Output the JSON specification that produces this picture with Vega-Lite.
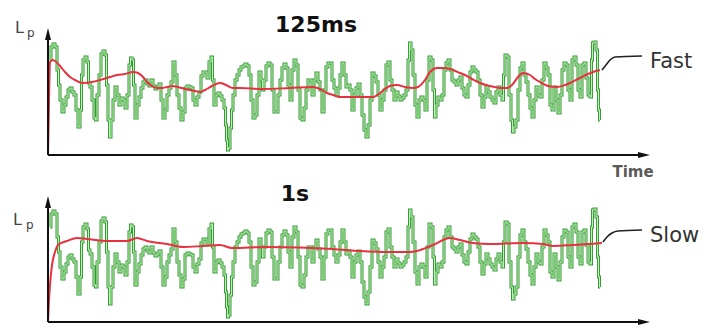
{
"$schema":"https://vega.github.io/schema/vega-lite/v6.json",
"padding":0,
"spacing":0,
"bounds":"flush",
"config":{"view":{"stroke":null},"font":"DejaVu Sans","axis":{"disable":true}},
"datasets":{
"signal":[{"t":2,"v":95},{"t":4,"v":108},{"t":6,"v":111},{"t":8,"v":108},{"t":10,"v":85},{"t":11,"v":70},{"t":13,"v":55},{"t":15,"v":43},{"t":17,"v":50},{"t":19,"v":58},{"t":21,"v":65},{"t":23,"v":67},{"t":25,"v":63},{"t":27,"v":60},{"t":29,"v":45},{"t":31,"v":28},{"t":33,"v":45},{"t":34,"v":80},{"t":36,"v":95},{"t":38,"v":98},{"t":40,"v":93},{"t":41,"v":72},{"t":43,"v":68},{"t":45,"v":55},{"t":47,"v":37},{"t":48,"v":35},{"t":50,"v":60},{"t":52,"v":80},{"t":54,"v":101},{"t":56,"v":104},{"t":58,"v":100},{"t":59,"v":70},{"t":61,"v":35},{"t":62,"v":18},{"t":64,"v":35},{"t":66,"v":55},{"t":68,"v":68},{"t":70,"v":60},{"t":72,"v":50},{"t":74,"v":57},{"t":76,"v":55},{"t":78,"v":47},{"t":80,"v":60},{"t":82,"v":90},{"t":83,"v":97},{"t":85,"v":95},{"t":86,"v":70},{"t":88,"v":37},{"t":90,"v":50},{"t":92,"v":58},{"t":94,"v":67},{"t":96,"v":73},{"t":98,"v":75},{"t":100,"v":71},{"t":102,"v":69},{"t":104,"v":75},{"t":106,"v":69},{"t":108,"v":66},{"t":110,"v":68},{"t":112,"v":71},{"t":114,"v":55},{"t":116,"v":37},{"t":118,"v":45},{"t":120,"v":60},{"t":122,"v":67},{"t":124,"v":73},{"t":126,"v":93},{"t":128,"v":80},{"t":130,"v":60},{"t":132,"v":47},{"t":134,"v":35},{"t":136,"v":43},{"t":138,"v":67},{"t":140,"v":69},{"t":142,"v":68},{"t":144,"v":67},{"t":146,"v":55},{"t":148,"v":50},{"t":150,"v":58},{"t":152,"v":63},{"t":154,"v":79},{"t":156,"v":83},{"t":158,"v":83},{"t":160,"v":77},{"t":162,"v":93},{"t":164,"v":98},{"t":165,"v":75},{"t":167,"v":50},{"t":169,"v":60},{"t":171,"v":62},{"t":173,"v":59},{"t":175,"v":55},{"t":177,"v":47},{"t":178,"v":30},{"t":179,"v":15},{"t":180,"v":5},{"t":181,"v":7},{"t":183,"v":27},{"t":184,"v":45},{"t":186,"v":60},{"t":188,"v":75},{"t":190,"v":80},{"t":192,"v":85},{"t":194,"v":88},{"t":196,"v":89},{"t":198,"v":91},{"t":200,"v":89},{"t":202,"v":80},{"t":204,"v":55},{"t":206,"v":37},{"t":208,"v":40},{"t":210,"v":60},{"t":212,"v":83},{"t":214,"v":75},{"t":215,"v":65},{"t":217,"v":75},{"t":219,"v":89},{"t":221,"v":92},{"t":223,"v":90},{"t":225,"v":65},{"t":227,"v":43},{"t":229,"v":43},{"t":231,"v":60},{"t":233,"v":75},{"t":235,"v":87},{"t":237,"v":91},{"t":239,"v":87},{"t":241,"v":70},{"t":243,"v":55},{"t":245,"v":85},{"t":247,"v":95},{"t":249,"v":90},{"t":251,"v":65},{"t":253,"v":37},{"t":255,"v":35},{"t":257,"v":47},{"t":259,"v":65},{"t":261,"v":75},{"t":263,"v":75},{"t":265,"v":60},{"t":267,"v":75},{"t":269,"v":82},{"t":271,"v":73},{"t":273,"v":65},{"t":275,"v":43},{"t":277,"v":65},{"t":279,"v":88},{"t":281,"v":92},{"t":283,"v":92},{"t":285,"v":75},{"t":287,"v":67},{"t":289,"v":60},{"t":291,"v":67},{"t":293,"v":80},{"t":295,"v":92},{"t":297,"v":80},{"t":299,"v":68},{"t":301,"v":70},{"t":303,"v":65},{"t":305,"v":45},{"t":307,"v":60},{"t":309,"v":67},{"t":311,"v":71},{"t":313,"v":60},{"t":315,"v":40},{"t":317,"v":25},{"t":319,"v":18},{"t":321,"v":30},{"t":323,"v":55},{"t":325,"v":82},{"t":327,"v":79},{"t":329,"v":73},{"t":331,"v":60},{"t":333,"v":45},{"t":335,"v":55},{"t":337,"v":65},{"t":339,"v":90},{"t":341,"v":93},{"t":343,"v":75},{"t":345,"v":65},{"t":347,"v":55},{"t":349,"v":63},{"t":351,"v":59},{"t":353,"v":55},{"t":355,"v":57},{"t":357,"v":60},{"t":359,"v":65},{"t":361,"v":95},{"t":362,"v":112},{"t":364,"v":105},{"t":366,"v":80},{"t":368,"v":50},{"t":370,"v":38},{"t":372,"v":55},{"t":374,"v":58},{"t":376,"v":55},{"t":378,"v":45},{"t":380,"v":75},{"t":382,"v":98},{"t":384,"v":95},{"t":386,"v":65},{"t":387,"v":38},{"t":389,"v":50},{"t":391,"v":58},{"t":393,"v":55},{"t":395,"v":60},{"t":397,"v":85},{"t":399,"v":92},{"t":401,"v":95},{"t":403,"v":85},{"t":405,"v":75},{"t":407,"v":73},{"t":409,"v":70},{"t":411,"v":75},{"t":413,"v":78},{"t":415,"v":67},{"t":417,"v":60},{"t":419,"v":58},{"t":421,"v":70},{"t":423,"v":83},{"t":425,"v":88},{"t":427,"v":85},{"t":429,"v":83},{"t":431,"v":75},{"t":433,"v":60},{"t":435,"v":48},{"t":437,"v":58},{"t":439,"v":68},{"t":441,"v":63},{"t":443,"v":58},{"t":445,"v":55},{"t":447,"v":52},{"t":449,"v":63},{"t":451,"v":68},{"t":453,"v":60},{"t":455,"v":55},{"t":456,"v":80},{"t":458,"v":100},{"t":460,"v":98},{"t":462,"v":60},{"t":464,"v":35},{"t":465,"v":23},{"t":467,"v":28},{"t":469,"v":35},{"t":471,"v":65},{"t":473,"v":87},{"t":475,"v":92},{"t":477,"v":80},{"t":479,"v":73},{"t":481,"v":60},{"t":483,"v":47},{"t":485,"v":38},{"t":487,"v":55},{"t":489,"v":68},{"t":491,"v":60},{"t":493,"v":58},{"t":495,"v":75},{"t":497,"v":92},{"t":499,"v":87},{"t":501,"v":80},{"t":503,"v":50},{"t":505,"v":45},{"t":507,"v":68},{"t":509,"v":55},{"t":511,"v":42},{"t":513,"v":60},{"t":515,"v":85},{"t":517,"v":92},{"t":519,"v":90},{"t":521,"v":65},{"t":523,"v":55},{"t":525,"v":95},{"t":527,"v":98},{"t":529,"v":90},{"t":531,"v":65},{"t":533,"v":58},{"t":535,"v":90},{"t":537,"v":92},{"t":539,"v":77},{"t":541,"v":60},{"t":543,"v":58},{"t":544,"v":95},{"t":545,"v":112},{"t":547,"v":113},{"t":549,"v":105},{"t":550,"v":65},{"t":551,"v":45},{"t":552,"v":35}],
"fast":[{"t":0,"v":0},{"t":1,"v":55},{"t":2,"v":93},{"t":4,"v":95},{"t":7,"v":94},{"t":12,"v":89},{"t":17,"v":83},{"t":22,"v":78},{"t":27,"v":75},{"t":35,"v":72},{"t":44,"v":73},{"t":52,"v":75},{"t":62,"v":78},{"t":69,"v":80},{"t":77,"v":81},{"t":85,"v":83},{"t":90,"v":82},{"t":95,"v":78},{"t":99,"v":73},{"t":104,"v":69},{"t":109,"v":67},{"t":114,"v":67},{"t":119,"v":68},{"t":124,"v":69},{"t":130,"v":68},{"t":137,"v":66},{"t":142,"v":65},{"t":147,"v":64},{"t":152,"v":63},{"t":157,"v":65},{"t":164,"v":69},{"t":172,"v":72},{"t":178,"v":70},{"t":185,"v":67},{"t":192,"v":67},{"t":215,"v":66},{"t":242,"v":67},{"t":265,"v":68},{"t":272,"v":66},{"t":279,"v":62},{"t":285,"v":60},{"t":292,"v":58},{"t":312,"v":58},{"t":325,"v":58},{"t":332,"v":62},{"t":337,"v":66},{"t":342,"v":69},{"t":349,"v":70},{"t":357,"v":68},{"t":365,"v":67},{"t":370,"v":68},{"t":377,"v":75},{"t":382,"v":83},{"t":389,"v":87},{"t":397,"v":87},{"t":405,"v":85},{"t":412,"v":82},{"t":417,"v":80},{"t":424,"v":76},{"t":432,"v":72},{"t":442,"v":69},{"t":452,"v":67},{"t":459,"v":67},{"t":464,"v":70},{"t":470,"v":78},{"t":475,"v":82},{"t":482,"v":80},{"t":487,"v":76},{"t":492,"v":73},{"t":500,"v":69},{"t":509,"v":68},{"t":517,"v":70},{"t":522,"v":72},{"t":532,"v":77},{"t":540,"v":81},{"t":545,"v":83},{"t":552,"v":85}],
"slow":[{"t":0,"v":0},{"t":1,"v":22},{"t":2,"v":37},{"t":4,"v":57},{"t":7,"v":70},{"t":10,"v":77},{"t":19,"v":81},{"t":29,"v":84},{"t":39,"v":83},{"t":59,"v":81},{"t":79,"v":81},{"t":89,"v":84},{"t":99,"v":81},{"t":119,"v":78},{"t":135,"v":75},{"t":155,"v":76},{"t":172,"v":77},{"t":184,"v":74},{"t":219,"v":75},{"t":285,"v":73},{"t":312,"v":71},{"t":342,"v":70},{"t":362,"v":70},{"t":369,"v":71},{"t":385,"v":77},{"t":402,"v":84},{"t":412,"v":82},{"t":425,"v":79},{"t":442,"v":78},{"t":475,"v":79},{"t":495,"v":78},{"t":505,"v":76},{"t":525,"v":77},{"t":554,"v":79}],
"leadF":[{"t":554,"v":85},{"t":558,"v":90},{"t":562,"v":95},{"t":567,"v":98},{"t":594,"v":99}],
"leadS":[{"t":555,"v":80},{"t":559,"v":85},{"t":564,"v":89},{"t":570,"v":91},{"t":594,"v":92}],
"anno":[{"k":1}]
},
"vconcat":[
{
"width":706,"height":180,
"layer":[
{"data":{"name":"signal"},"mark":{"type":"line","interpolate":"step","stroke":"#359535","strokeWidth":3}, "encoding":{"x":{"field":"t","type":"quantitative","scale":{"domain":[-48,658],"nice":false,"zero":false}},"y":{"field":"v","type":"quantitative","scale":{"domain":[-25,155],"nice":false,"zero":false}}}},
{"data":{"name":"signal"},"mark":{"type":"line","interpolate":"step","stroke":"#b8f5b0","strokeWidth":1.1},"encoding":{"x":{"field":"t","type":"quantitative"},"y":{"field":"v","type":"quantitative"}}},
{"data":{"name":"fast"},"mark":{"type":"line","interpolate":"monotone","stroke":"#e8303f","strokeWidth":2},"encoding":{"x":{"field":"t","type":"quantitative"},"y":{"field":"v","type":"quantitative"}}},
{"data":{"name":"leadF"},"mark":{"type":"line","interpolate":"monotone","stroke":"#222222","strokeWidth":1.6},"encoding":{"x":{"field":"t","type":"quantitative"},"y":{"field":"v","type":"quantitative"}}},
{"data":{"name":"anno"},"mark":{"type":"rule","stroke":"#111111","strokeWidth":2},"encoding":{"x":{"datum":0,"type":"quantitative"},"x2":{"datum":592},"y":{"datum":0,"type":"quantitative"}}},
{"data":{"name":"anno"},"mark":{"type":"rule","stroke":"#111111","strokeWidth":2},"encoding":{"x":{"datum":0,"type":"quantitative"},"y":{"datum":0,"type":"quantitative"},"y2":{"datum":121}}},
{"data":{"name":"anno"},"mark":{"type":"point","shape":"M-1,-0.5L1,0L-1,0.5Z","filled":true,"color":"#111111","size":144,"opacity":1},"encoding":{"x":{"datum":596,"type":"quantitative"},"y":{"datum":0,"type":"quantitative"}}},
{"data":{"name":"anno"},"mark":{"type":"point","shape":"M-0.5,1L0,-1L0.5,1Z","filled":true,"color":"#111111","size":144,"opacity":1},"encoding":{"x":{"datum":0,"type":"quantitative"},"y":{"datum":121,"type":"quantitative"}}},
{"data":{"name":"anno"},"mark":{"type":"text","text":"125ms","font":"DejaVu Sans","fontWeight":"bold","fontSize":22,"align":"center","baseline":"middle","color":"#111111"},"encoding":{"x":{"datum":268,"type":"quantitative"},"y":{"datum":130,"type":"quantitative"}}},
{"data":{"name":"anno"},"mark":{"type":"text","text":"L","fontSize":16,"align":"left","baseline":"alphabetic","color":"#444444"},"encoding":{"x":{"datum":-33,"type":"quantitative"},"y":{"datum":122,"type":"quantitative"}}},
{"data":{"name":"anno"},"mark":{"type":"text","text":"p","fontSize":12,"align":"left","baseline":"alphabetic","color":"#444444"},"encoding":{"x":{"datum":-21,"type":"quantitative"},"y":{"datum":118,"type":"quantitative"}}},
{"data":{"name":"anno"},"mark":{"type":"text","text":"Fast","fontSize":21,"align":"left","baseline":"alphabetic","color":"#333333"},"encoding":{"x":{"datum":602,"type":"quantitative"},"y":{"datum":87,"type":"quantitative"}}},
{"data":{"name":"anno"},"mark":{"type":"text","text":"Time","fontSize":15,"fontWeight":"bold","align":"center","baseline":"alphabetic","color":"#5a5a5a"},"encoding":{"x":{"datum":585,"type":"quantitative"},"y":{"datum":-22,"type":"quantitative"}}}
]
},
{
"width":706,"height":152,
"layer":[
{"data":{"name":"signal"},"mark":{"type":"line","interpolate":"step","stroke":"#359535","strokeWidth":3},"encoding":{"x":{"field":"t","type":"quantitative","scale":{"domain":[-48,658],"nice":false,"zero":false}},"y":{"field":"v","type":"quantitative","scale":{"domain":[-10,142],"nice":false,"zero":false}}}},
{"data":{"name":"signal"},"mark":{"type":"line","interpolate":"step","stroke":"#b8f5b0","strokeWidth":1.1},"encoding":{"x":{"field":"t","type":"quantitative"},"y":{"field":"v","type":"quantitative"}}},
{"data":{"name":"slow"},"mark":{"type":"line","interpolate":"monotone","stroke":"#e8303f","strokeWidth":2},"encoding":{"x":{"field":"t","type":"quantitative"},"y":{"field":"v","type":"quantitative"}}},
{"data":{"name":"leadS"},"mark":{"type":"line","interpolate":"monotone","stroke":"#222222","strokeWidth":1.6},"encoding":{"x":{"field":"t","type":"quantitative"},"y":{"field":"v","type":"quantitative"}}},
{"data":{"name":"anno"},"mark":{"type":"rule","stroke":"#111111","strokeWidth":2},"encoding":{"x":{"datum":0,"type":"quantitative"},"x2":{"datum":592},"y":{"datum":0,"type":"quantitative"}}},
{"data":{"name":"anno"},"mark":{"type":"rule","stroke":"#111111","strokeWidth":2},"encoding":{"x":{"datum":0,"type":"quantitative"},"y":{"datum":0,"type":"quantitative"},"y2":{"datum":120}}},
{"data":{"name":"anno"},"mark":{"type":"point","shape":"M-1,-0.5L1,0L-1,0.5Z","filled":true,"color":"#111111","size":144,"opacity":1},"encoding":{"x":{"datum":596,"type":"quantitative"},"y":{"datum":0,"type":"quantitative"}}},
{"data":{"name":"anno"},"mark":{"type":"point","shape":"M-0.5,1L0,-1L0.5,1Z","filled":true,"color":"#111111","size":144,"opacity":1},"encoding":{"x":{"datum":0,"type":"quantitative"},"y":{"datum":120,"type":"quantitative"}}},
{"data":{"name":"anno"},"mark":{"type":"text","text":"1s","font":"DejaVu Sans","fontWeight":"bold","fontSize":22,"align":"center","baseline":"middle","color":"#111111"},"encoding":{"x":{"datum":247,"type":"quantitative"},"y":{"datum":128,"type":"quantitative"}}},
{"data":{"name":"anno"},"mark":{"type":"text","text":"L","fontSize":16,"align":"left","baseline":"alphabetic","color":"#444444"},"encoding":{"x":{"datum":-35,"type":"quantitative"},"y":{"datum":97,"type":"quantitative"}}},
{"data":{"name":"anno"},"mark":{"type":"text","text":"p","fontSize":12,"align":"left","baseline":"alphabetic","color":"#444444"},"encoding":{"x":{"datum":-22,"type":"quantitative"},"y":{"datum":93,"type":"quantitative"}}},
{"data":{"name":"anno"},"mark":{"type":"text","text":"Slow","fontSize":21,"align":"left","baseline":"alphabetic","color":"#333333"},"encoding":{"x":{"datum":602,"type":"quantitative"},"y":{"datum":80,"type":"quantitative"}}}
]
}
]
}
